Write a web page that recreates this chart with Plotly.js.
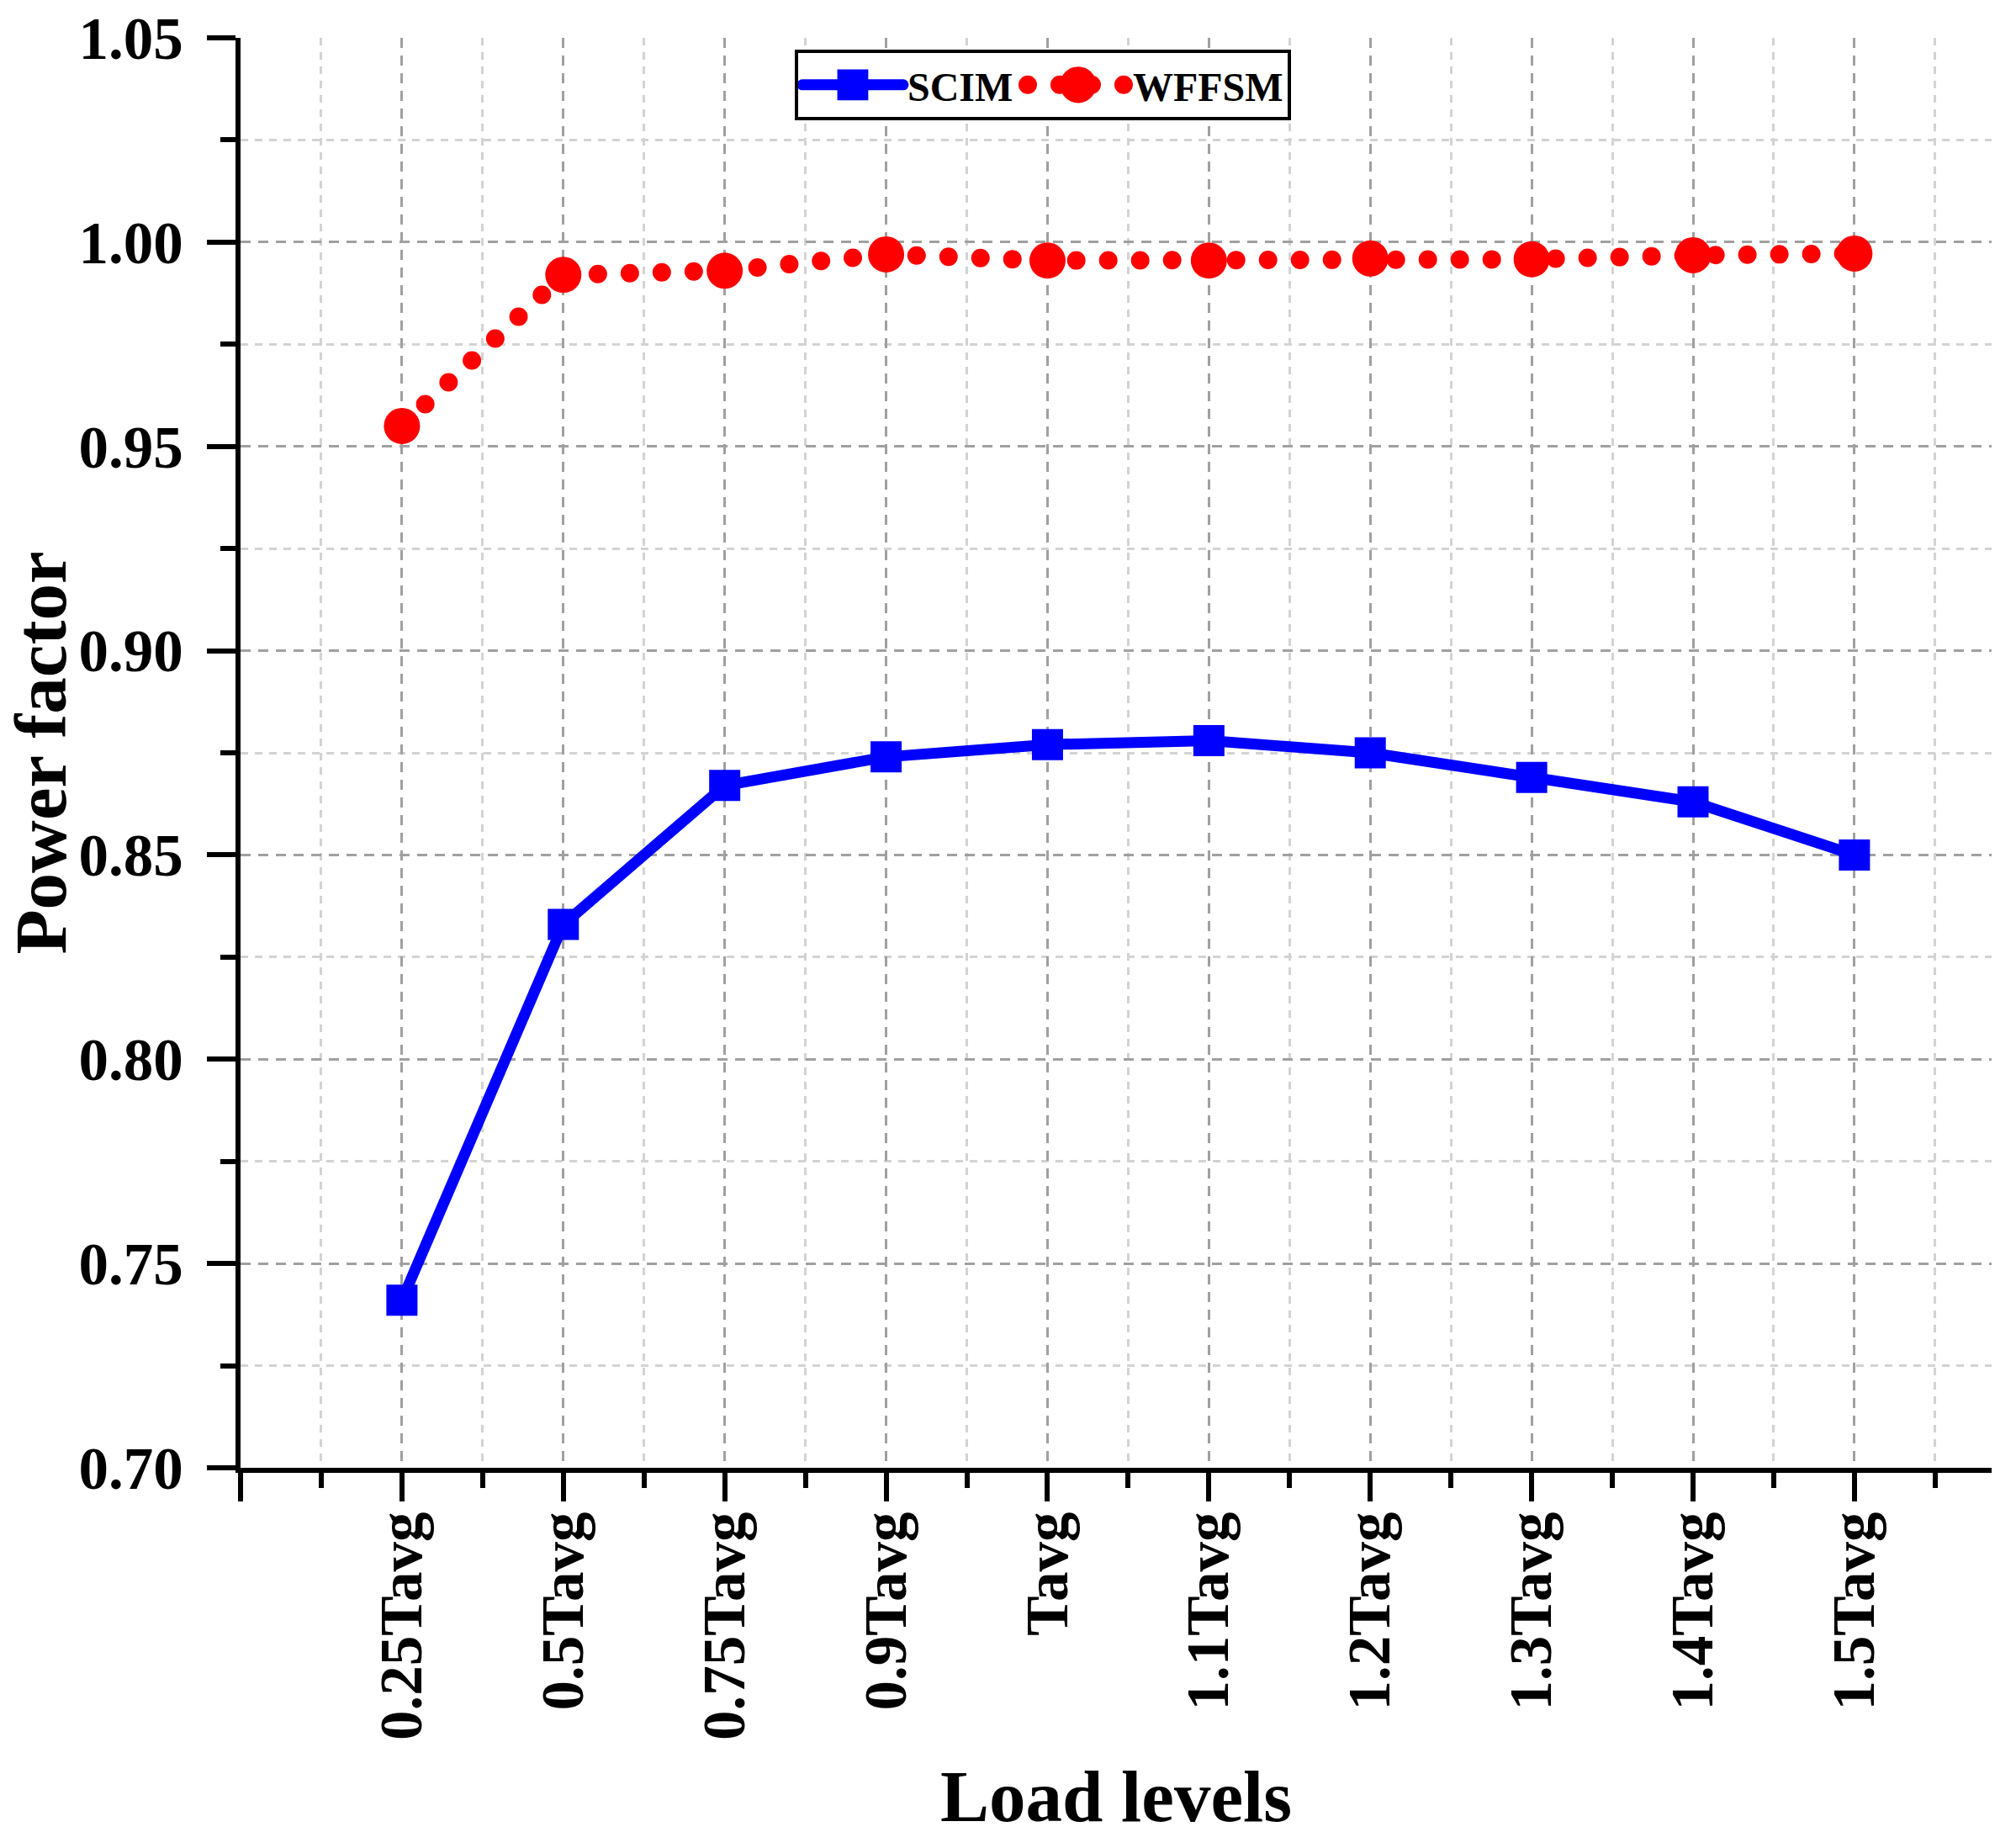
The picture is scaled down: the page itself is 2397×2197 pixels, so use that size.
<!DOCTYPE html>
<html>
<head>
<meta charset="utf-8">
<script src="https://cdn.plot.ly/plotly-3.0.1.min.js"></script>
<style>
html, body { margin: 0; padding: 0; background: #ffffff; }
#chart { width: 2397px; height: 2197px; }
.js-line { stroke-linecap: round; stroke-linejoin: round; }
.legend .traces:nth-child(1) .js-line { stroke-width: 13px !important; }
.legend .traces:nth-child(2) .js-line { stroke-width: 22px !important; stroke-dasharray: 0px, 38px !important; }
.legend .traces:nth-child(1) .scatterpts { transform: translate(65px, 0px) scale(2.3); }
.legend .traces:nth-child(2) .scatterpts { transform: translate(65px, 0px) scale(2.7); }
</style>
</head>
<body>
<div id="chart"></div>
<script>
// ---- data ----
const loadLevels = ['0.25Tavg', '0.5Tavg', '0.75Tavg', '0.9Tavg', 'Tavg',
                    '1.1Tavg', '1.2Tavg', '1.3Tavg', '1.4Tavg', '1.5Tavg'];
const scimPF  = [0.741, 0.833, 0.867, 0.874, 0.877, 0.878, 0.875, 0.869, 0.863, 0.850];
const wffsmPF = [0.955, 0.992, 0.993, 0.997, 0.9955, 0.9955, 0.996, 0.9958, 0.9968, 0.9972];
const seriesNames = ['SCIM', 'WFFSM'];

// category positions on the axis (1..n, axis starts at 0)
const xPos = loadLevels.map((_, i) => i + 1);

const FONT = 'Liberation Serif, Times New Roman, serif';

const traces = [
  {
    type: 'scatter', mode: 'lines+markers', name: seriesNames[0],
    x: xPos, y: scimPF,
    line: { color: '#0000ff', width: 13 },
    marker: { symbol: 'square', size: 37, color: '#0000ff', line: { width: 0 } },
    legendwidth: 133
  },
  {
    type: 'scatter', mode: 'lines+markers', name: seriesNames[1],
    x: xPos, y: wffsmPF,
    line: { color: '#ff0000', width: 22, dash: '0px,38px' },
    marker: { symbol: 'circle', size: 43, color: '#ff0000', line: { width: 0 } }
  }
];

const layout = {
  width: 2397, height: 2197,
  paper_bgcolor: '#ffffff', plot_bgcolor: '#ffffff',
  margin: { l: 286, r: 29, t: 45, b: 452, pad: 0 },
  showlegend: true,
  font: { family: FONT, color: '#000000' },
  xaxis: {
    type: 'linear',
    range: [0, 10.85],
    tickmode: 'array',
    tickvals: [0].concat(xPos),
    ticktext: [''].concat(loadLevels),
    tickangle: -90,
    tickfont: { family: FONT, size: 71, weight: 'bold', color: '#000' },
    ticks: 'outside', ticklen: 34, tickwidth: 6, tickcolor: '#000',
    ticklabelstandoff: -16,
    showline: true, linecolor: '#000', linewidth: 6,
    showgrid: true, gridcolor: '#a0a0a0', gridwidth: 3, griddash: '12px,9px',
    zeroline: false,
    minor: {
      tickmode: 'linear', tick0: 0.5, dtick: 1,
      ticks: 'outside', ticklen: 18, tickwidth: 6, tickcolor: '#000',
      showgrid: true, gridcolor: '#d3d3d3', gridwidth: 3, griddash: '9px,8px'
    },
    title: { text: 'Load levels', font: { family: FONT, size: 87, weight: 'bold', color: '#000' }, standoff: 38 }
  },
  yaxis: {
    range: [0.70, 1.05],
    tickmode: 'linear', tick0: 0.70, dtick: 0.05,
    tickformat: '.2f',
    tickfont: { family: FONT, size: 71, weight: 'bold', color: '#000' },
    ticks: 'outside', ticklen: 34, tickwidth: 6, tickcolor: '#000',
    ticklabelstandoff: 14,
    showline: true, linecolor: '#000', linewidth: 6,
    showgrid: true, gridcolor: '#a0a0a0', gridwidth: 3, griddash: '12px,9px',
    zeroline: false,
    minor: {
      tickmode: 'linear', tick0: 0.725, dtick: 0.05,
      ticks: 'outside', ticklen: 18, tickwidth: 6, tickcolor: '#000',
      showgrid: true, gridcolor: '#d3d3d3', gridwidth: 3, griddash: '9px,8px'
    },
    title: { text: 'Power factor', font: { family: FONT, size: 87, weight: 'bold', color: '#000' }, standoff: 4 }
  },
  legend: {
    orientation: 'h',
    x: 0.3165, y: 0.9917, xanchor: 'left', yanchor: 'top',
    bgcolor: '#ffffff', bordercolor: '#000000', borderwidth: 4,
    font: { family: FONT, size: 48, weight: 'bold', color: '#000' },
    itemwidth: 120,
    itemsizing: 'trace'
  }
};

Plotly.newPlot('chart', traces, layout, { displayModeBar: false, staticPlot: true });
</script>
</body>
</html>
